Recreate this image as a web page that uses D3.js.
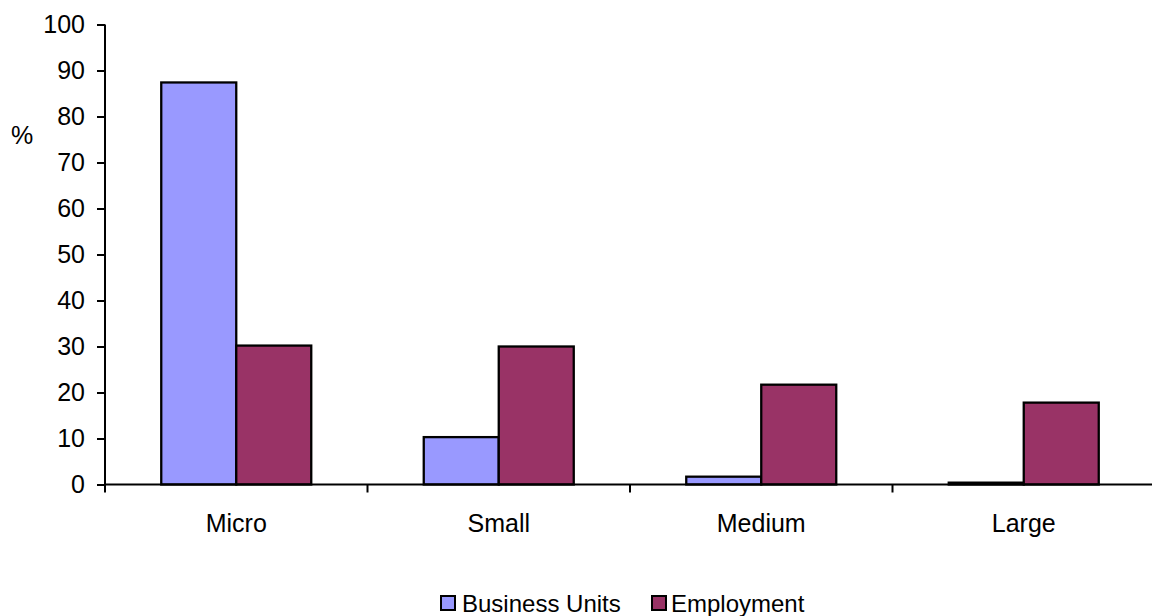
<!DOCTYPE html>
<html>
<head>
<meta charset="utf-8">
<script src="https://cdn.jsdelivr.net/npm/d3@7"></script>
<style>
  html, body { margin: 0; padding: 0; background: #fff; }
  svg { display: block; }
  text { font-family: "Liberation Sans", Arial, sans-serif; fill: #000; }
</style>
</head>
<body>
<svg id="chart" width="1152" height="616"></svg>
<script>
// Share of business units and employment by enterprise size class (%)
const categories = ["Micro", "Small", "Medium", "Large"];
const seriesNames = ["Business Units", "Employment"];
const businessUnits = [87.4, 10.3, 1.7, 0.4];
const employment = [30.2, 30.0, 21.7, 17.8];
const yTicks = [0, 10, 20, 30, 40, 50, 60, 70, 80, 90, 100];
const colors = ["#9999FF", "#993366"];

const svg = d3.select("#chart");
const x0 = 105, x1 = 1155, yBottom = 484.5, yTop = 24.5;
const fontSize = "25px";

const x = d3.scaleBand().domain(categories).range([x0, x1]).paddingInner(0).paddingOuter(0);
const inner = d3.scaleBand().domain(seriesNames)
  .range([0, x.bandwidth()]).paddingOuter(0.75).paddingInner(0);
const y = d3.scaleLinear().domain([0, 100]).range([yBottom, yTop]);

const rows = categories.map((c, i) => ({
  cat: c,
  vals: [
    { key: seriesNames[0], v: businessUnits[i] },
    { key: seriesNames[1], v: employment[i] }
  ]
}));

// bars
const g = svg.append("g");
g.selectAll("g.cat").data(rows).join("g")
  .attr("class", "cat")
  .attr("transform", d => `translate(${x(d.cat)},0)`)
  .selectAll("rect").data(d => d.vals).join("rect")
  .attr("x", d => inner(d.key))
  .attr("width", inner.bandwidth())
  .attr("y", d => y(d.v))
  .attr("height", d => y(0) - y(d.v))
  .attr("fill", (d, i) => colors[i])
  .attr("stroke", "#000")
  .attr("stroke-width", 2.3);

// y axis
const yAxis = d3.axisLeft(y).tickValues(yTicks).tickSize(8).tickSizeOuter(0).tickPadding(12);
const ya = svg.append("g").attr("transform", `translate(${x0},0)`).call(yAxis);
ya.select(".domain").attr("stroke", "#000").attr("stroke-width", 2)
  .attr("d", `M0,${yTop}V${yBottom + 8}`);
ya.selectAll(".tick line").attr("stroke", "#000").attr("stroke-width", 2);
ya.selectAll(".tick text").attr("font-size", fontSize)
  .attr("font-family", "Liberation Sans, Arial, sans-serif").attr("fill", "#000");

// x axis
const xa = svg.append("g").attr("transform", `translate(0,${yBottom})`);
xa.append("line").attr("x1", x0).attr("x2", x1).attr("y1", 0).attr("y2", 0)
  .attr("stroke", "#000").attr("stroke-width", 2);
xa.selectAll("line.tk").data(categories.slice(1).concat(["__end"])).join("line")
  .attr("class", "tk")
  .attr("x1", d => d === "__end" ? x1 : x(d))
  .attr("x2", d => d === "__end" ? x1 : x(d))
  .attr("y1", 0).attr("y2", 8)
  .attr("stroke", "#000").attr("stroke-width", 2);
xa.selectAll("text").data(categories).join("text")
  .attr("x", d => x(d) + x.bandwidth() / 2)
  .attr("y", 47)
  .attr("text-anchor", "middle")
  .attr("font-size", fontSize)
  .text(d => d);

// y unit label
svg.append("text").attr("x", 11).attr("y", 144).attr("font-size", fontSize).text("%");

// legend
const legend = svg.append("g");
const legendItems = [
  { name: seriesNames[0], color: colors[0], sx: 441, tx: 462 },
  { name: seriesNames[1], color: colors[1], sx: 652, tx: 671 }
];
legend.selectAll("rect").data(legendItems).join("rect")
  .attr("x", d => d.sx).attr("y", 596).attr("width", 14).attr("height", 14)
  .attr("fill", d => d.color).attr("stroke", "#000").attr("stroke-width", 2);
legend.selectAll("text").data(legendItems).join("text")
  .attr("x", d => d.tx).attr("y", 612).attr("font-size", "24px")
  .text(d => d.name);
</script>
</body>
</html>
